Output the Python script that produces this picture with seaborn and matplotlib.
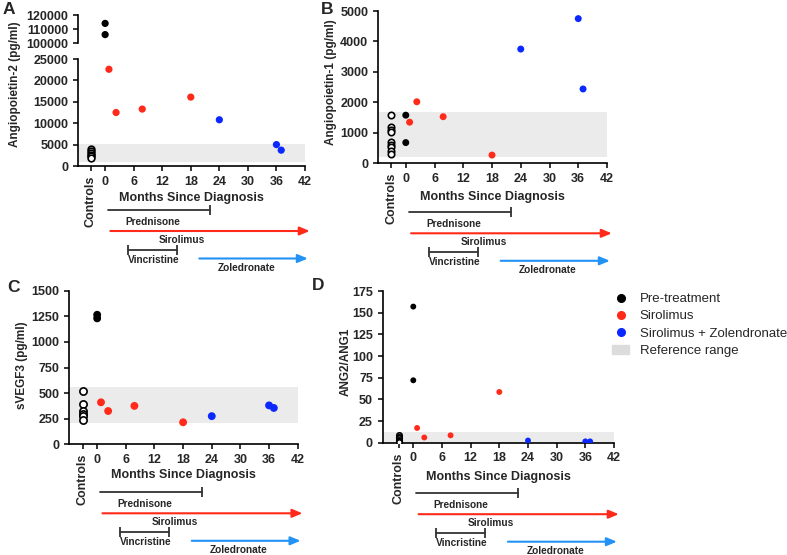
import numpy as np
import pandas as pd
import matplotlib
matplotlib.use('Agg')
import matplotlib.pyplot as plt
import matplotlib.transforms as mtrans
from matplotlib.lines import Line2D
from matplotlib.patches import Patch
import seaborn as sns

# ---- data ----
groups = ['Pre-treatment'] * 2 + ['Sirolimus'] * 4 + ['Sirolimus + Zolendronate'] * 3
months = [0, 0, 0.8, 2.3, 7.8, 18, 24, 36, 37]
group_names = ['Pre-treatment', 'Sirolimus', 'Sirolimus + Zolendronate']
group_colors = ['#000000', '#ff2a1a', '#0a28ff']

ang2_values = [114000, 106000, 22600, 12500, 13300, 16100, 10800, 5000, 3700]
ang2_controls = [4000, 3500, 3000, 2600, 2300, 1900]
ang2_range = [900, 5100]

ang1_values = [1580, 680, 1350, 2020, 1530, 270, 3750, 4750, 2440]
ang1_controls = [1590, 1200, 1100, 1040, 700, 600, 520, 400, 300]
ang1_range = [200, 1700]

vegf3_values = [1265, 1230, 410, 325, 375, 215, 275, 380, 355]
vegf3_controls = [520, 390, 330, 300, 280, 240]
vegf3_range = [210, 560]

ratio_values = [157, 72, 17, 6, 8.5, 58.5, 2.5, 1.5, 1.5]
ratio_controls = [9, 7, 5, 3, 2, 1]
ratio_range = [0, 12.5]

treatments = ['Prednisone', 'Sirolimus', 'Vincristine', 'Zoledronate']
treat_start = [0.6, 1.1, 4.8, 19.8]
treat_end = [22, 43, 15.1, 42.6]

CONTROL_X = -3
RED, BLUE2, BAND = '#ff2a1a', '#2392f5', '#ebebeb'

sns.set_style('ticks')
plt.rcParams['font.family'] = ['Liberation Sans', 'DejaVu Sans']
plt.rcParams['font.weight'] = 'bold'
plt.rcParams['axes.labelweight'] = 'bold'

W, H = 787, 555
fig = plt.figure(figsize=(W / 100, H / 100), dpi=100)


def add_ax(l, t, r, b):
    return fig.add_axes([l / W, 1 - b / H, (r - l) / W, (b - t) / H])


def shift(ax, dy):
    # x in data, y = dy pixels below the x axis
    return ax.get_xaxis_transform() + mtrans.ScaledTranslation(0, -dy / 100, fig.dpi_scale_trans)


def points(ax, values, controls, size):
    df = pd.DataFrame({'month': months, 'value': values, 'group': groups})
    sns.scatterplot(data=df, x='month', y='value', hue='group', hue_order=group_names,
                    palette=group_colors, s=size, linewidth=0, legend=False, ax=ax, zorder=3)
    cdf = pd.DataFrame({'month': [CONTROL_X] * len(controls), 'value': controls})
    sns.scatterplot(data=cdf, x='month', y='value', color='white', edgecolor='black',
                    s=size * 0.85, linewidth=1.2, legend=False, ax=ax, zorder=3)


def style_axis(ax, xmin, ylim, ystep):
    ax.set_xlim(xmin, 42)
    ax.set_ylim(*ylim)
    ax.set_yticks(np.arange(ylim[0], ylim[1] + ystep / 2, ystep))
    ticks = list(range(0, 43, 6))
    ax.set_xticks([CONTROL_X] + ticks)
    ax.set_xticklabels(['Controls'] + [str(t) for t in ticks])
    t0 = ax.xaxis.get_major_ticks()[0].label1
    t0.set_rotation(90)
    t0.set_va('top')
    ax.tick_params(labelsize=9, length=3.5, width=1.1, color='black')
    for s in ['left', 'bottom']:
        ax.spines[s].set_linewidth(1.2)
        ax.spines[s].set_color('black')
    sns.despine(ax=ax)
    ax.set_ylabel('')


def finish(ax, xl_dy, base):
    ax.set_xlabel('Months Since Diagnosis', fontsize=9, fontweight='bold')
    ax.xaxis.set_label_coords(0.5, 0, transform=ax.transAxes + mtrans.ScaledTranslation(0, -xl_dy / 100, fig.dpi_scale_trans))
    ax.xaxis.label.set_va('center')
    # treatment timeline
    kw = dict(clip_on=False)
    ax.plot([treat_start[0], treat_end[0]], [0, 0], transform=shift(ax, base), color='#333333', lw=1.3, **kw)
    ax.plot([treat_end[0]], [0], transform=shift(ax, base), marker='|', ms=7, mew=1.3, color='#333333', **kw)
    ax.text(10, 0, treatments[0], transform=shift(ax, base + 12), ha='center', va='center', fontsize=7.3)
    for i, c, dy in [(1, RED, 21), (3, BLUE2, 48.5)]:
        ax.annotate('', xy=(treat_end[i], 0), xytext=(treat_start[i], 0),
                    xycoords=shift(ax, base + dy), textcoords=shift(ax, base + dy),
                    arrowprops=dict(arrowstyle='-|>,head_length=0.6,head_width=0.25', color=c, lw=1.5,
                                    shrinkA=0, shrinkB=0), annotation_clip=False)
    ax.text(16.2, 0, treatments[1], transform=shift(ax, base + 30), ha='center', va='center', fontsize=7.3)
    ax.plot([treat_start[2], treat_end[2]], [0, 0], transform=shift(ax, base + 40), color='#333333', lw=1.3, **kw)
    ax.plot([treat_start[2], treat_end[2]], [0, 0], transform=shift(ax, base + 40), ls='', marker='|', ms=7,
            mew=1.3, color='#333333', **kw)
    ax.text(10.2, 0, treatments[2], transform=shift(ax, base + 49.5), ha='center', va='center', fontsize=7.3)
    ax.text(29.7, 0, treatments[3], transform=shift(ax, base + 57.5), ha='center', va='center', fontsize=7.3)


# ---- panel A (broken axis) ----
axA = add_ax(78, 59, 305, 166)
axA_top = add_ax(78, 15, 305, 43)
for ax in (axA, axA_top):
    ax.axhspan(*ang2_range, color=BAND, zorder=0, lw=0)
    points(ax, ang2_values, ang2_controls, 27)
style_axis(axA, -5.7, (0, 25000), 5000)
style_axis(axA_top, -5.7, (100000, 120000), 10000)
axA_top.spines['bottom'].set_visible(False)
axA_top.tick_params(axis='x', bottom=False, labelbottom=False)
axA_top.set_xlabel('')
finish(axA, 32, 44)

# ---- panel B ----
axB = add_ax(378, 11, 607, 163.3)
axB.axhspan(*ang1_range, color=BAND, zorder=0, lw=0)
points(axB, ang1_values, ang1_controls, 25)
style_axis(axB, -5.8, (0, 5000), 1000)
finish(axB, 34, 49)

# ---- panel C ----
axC = add_ax(69, 290.7, 297.7, 444.3)
axC.axhspan(*vegf3_range, color=BAND, zorder=0, lw=0)
points(axC, vegf3_values, vegf3_controls, 32)
style_axis(axC, -5.9, (0, 1500), 250)
finish(axC, 31, 48)

# ---- panel D ----
axD = add_ax(382.7, 291, 614, 442.7)
axD.axhspan(*ratio_range, color=BAND, zorder=0, lw=0)
points(axD, ratio_values, ratio_controls, 18)
style_axis(axD, -6.4, (0, 175), 25)
finish(axD, 34, 50.5)

# ---- y labels and panel letters ----
for x, y, s in [(15, 84, 'Angiopoietin-2 (pg/ml)'), (331, 82, 'Angiopoietin-1 (pg/ml)'),
                (22, 365, 'sVEGF3 (pg/ml)'), (346, 362, 'ANG2/ANG1')]:
    fig.text(x / W, 1 - y / H, s, rotation=90, ha='center', va='center', fontsize=8.5)
for x, y, s in [(9, 9, 'A'), (327, 9, 'B'), (14, 287, 'C'), (318, 285, 'D')]:
    fig.text(x / W, 1 - y / H, s, ha='center', va='center', fontsize=12.5)

# ---- legend ----
handles = [Line2D([], [], ls='', marker='o', color=c, ms=5.5) for c in group_colors]
handles.append(Patch(color='#dcdcdc'))
fig.legend(handles, group_names + ['Reference range'], loc='upper left',
           bbox_to_anchor=(612 / W, 1 - 293 / H), frameon=False,
           prop={'weight': 'normal', 'size': 9.5}, handlelength=1.3, handletextpad=0.8,
           labelspacing=0.38, borderpad=0, borderaxespad=0)

fig.savefig('out.png', dpi=100)
